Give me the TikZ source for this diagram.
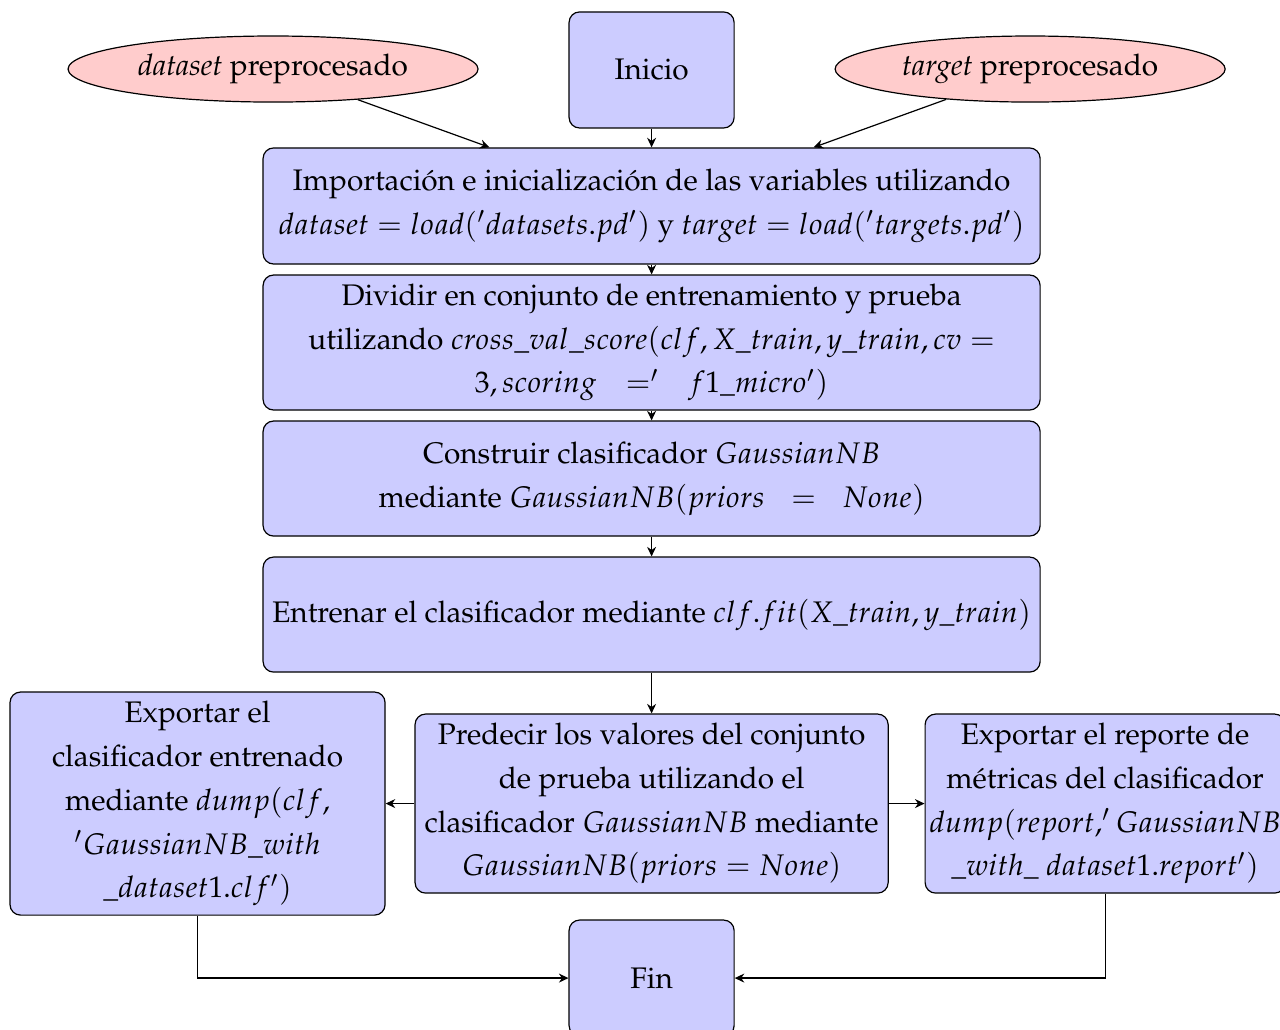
\documentclass[tikz,border=0pt]{standalone}
\usepackage[T1]{fontenc}
\usepackage{mathpazo}
\usetikzlibrary{positioning,arrows.meta,shapes.geometric}
\tikzset{
  flowarrow/.style={-{Stealth[length=3.2pt,width=3pt]}},
  procbox/.style={draw, rounded corners=3.5pt, fill=blue!20, align=center, inner sep=0pt, font=\fontsize{9.92}{14.6}\selectfont},
  termbox/.style={procbox, minimum width=1.934cm, minimum height=1.36cm},
  mainbox/.style={procbox, minimum width=9.106cm},
  datain/.style={draw, ellipse, fill=red!20, inner sep=0pt, minimum height=0.774cm, font=\fontsize{9.92}{14.6}\selectfont}
}

\begin{document}
\begin{tikzpicture}
  \useasboundingbox (0,0) rectangle (15.0,-12.07);
  % entradas
  \node[termbox] (inicio) at (7.636,-0.820) {Inicio};
  \node[datain, minimum width=4.805cm] (ds) at (3.200,-0.809) {\emph{dataset} preprocesado};
  \node[datain, minimum width=4.571cm] (tg) at (12.072,-0.809) {\emph{target} preprocesado};
  % pasos
  \node[mainbox, minimum height=1.360cm] (importar) at (7.636,-2.414)
    {Importaci\'on e inicializaci\'on de las variables utilizando\\
     $dataset = load('datasets.pd')$ y $target = load('targets.pd')$};
  \node[mainbox, minimum height=1.582cm] (dividir) at (7.636,-4.014)
    {Dividir en conjunto de entrenamiento y prueba\\
     utilizando $cross\_val\_score(clf, X\_train, y\_train, cv =$\\
     $3, scoring\hspace{7pt} =' \hspace{7pt} f1\_micro')$};
  \node[mainbox, minimum height=1.348cm] (construir) at (7.636,-5.608)
    {Construir clasificador $GaussianNB$\\
     mediante $GaussianNB(priors\hspace{6pt} =\hspace{6pt} None)$};
  \node[mainbox, minimum height=1.348cm] (entrenar) at (7.636,-7.202)
    {Entrenar el clasificador mediante $clf.fit(X\_train, y\_train)$};
  \node[procbox, minimum width=5.544cm, minimum height=2.098cm] (predecir) at (7.636,-9.417)
    {Predecir los valores del conjunto\\
     de prueba utilizando el\\
     clasificador $GaussianNB$ mediante\\
     $GaussianNB(priors = None)$};
  \node[procbox, minimum width=4.395cm, minimum height=2.614cm] (expclf) at (2.315,-9.417)
    {Exportar el\\
     clasificador entrenado\\
     mediante $dump(clf,$\\
     $'GaussianNB\_with$\\
     $\_dataset1.clf')$};
  \node[procbox, minimum width=4.219cm, minimum height=2.098cm] (exprep) at (12.951,-9.417)
    {Exportar el reporte de\\
     m\'etricas del clasificador\\
     $dump(report,'GaussianNB$\\
     $\_with\_\ dataset1.report')$};
  \node[termbox] (fin) at (7.636,-11.462) {Fin};
  % conexiones
  \draw[flowarrow] (ds) -- (importar);
  \draw[flowarrow] (tg) -- (importar);
  \draw[flowarrow] (inicio) -- (importar);
  \draw[flowarrow] (importar) -- (dividir);
  \draw[flowarrow] (dividir) -- (construir);
  \draw[flowarrow] (construir) -- (entrenar);
  \draw[flowarrow] (entrenar) -- (predecir);
  \draw[flowarrow] (predecir) -- (expclf);
  \draw[flowarrow] (predecir) -- (exprep);
  \draw[flowarrow] (expclf.south) |- (fin.west);
  \draw[flowarrow] (exprep.south) |- (fin.east);
\end{tikzpicture}
\end{document}
